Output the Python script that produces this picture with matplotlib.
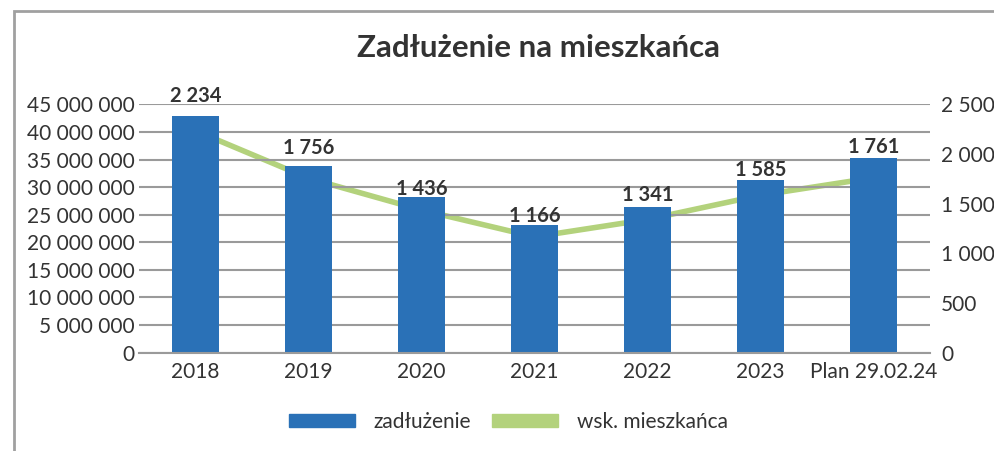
import matplotlib
matplotlib.use("Agg")
import matplotlib.pyplot as plt
from matplotlib.patches import Rectangle, Patch
from matplotlib.ticker import FuncFormatter

plt.rcParams['font.family'] = ['Lato', 'DejaVu Sans']

# data
years = ['2018', '2019', '2020', '2021', '2022', '2023', 'Plan 29.02.24']
debt = [42900000, 33900000, 28250000, 23150000, 26400000, 31300000, 35300000]
per_capita = [2234, 1756, 1436, 1166, 1341, 1585, 1761]
label_text = ['2 234', '1 756', '1 436', '1 166', '1 341', '1 585', '1 761']

# small nudges of the data labels above the bar tops (points)
label_lift = [10, 8, 1.5, 2, 4, 3, 3.5]

blue = '#2A71B7'
green = '#B3D27C'
grid_c = '#9A9A9A'
txt = '#333333'

fig = plt.figure(figsize=(9.94, 4.51), dpi=100)
ax = fig.add_axes([0.1398, 0.218, 0.7958, 0.5507])
ax2 = ax.twinx()

x = list(range(len(years)))
bars = ax.bar(x, debt, width=0.41, color=blue, zorder=2)
ax2.plot(x, per_capita, color=green, lw=4, zorder=1)

ax.set_xlim(-0.5, len(years) - 0.5)
ax.set_ylim(0, 45000000)
ax.set_yticks(range(0, 45000001, 5000000))
ax2.set_ylim(0, 2500)
ax2.set_yticks(range(0, 2501, 500))

fmt = FuncFormatter(lambda v, p: f'{int(v):,}'.replace(',', ' '))
ax.yaxis.set_major_formatter(fmt)
ax2.yaxis.set_major_formatter(fmt)

ax.grid(axis='y', color=grid_c, lw=1.5, zorder=0)
ax.set_axisbelow(True)
for a in (ax, ax2):
    for s in a.spines.values():
        s.set_visible(False)
    a.tick_params(length=0, labelsize=15, colors=txt)
ax.spines['bottom'].set_visible(True)
ax.spines['bottom'].set_color(grid_c)
ax.spines['bottom'].set_linewidth(1.5)
ax.set_xticks(x)
ax.set_xticklabels(years)
ax.tick_params(axis='x', pad=7)
ax.tick_params(axis='y', pad=3)
ax2.tick_params(axis='y', pad=8)

# bars sit over the line
ax.set_zorder(ax2.get_zorder() + 1)
ax.patch.set_visible(False)

for b, t, lift in zip(bars, label_text, label_lift):
    ax.annotate(t, (b.get_x() + b.get_width() / 2, b.get_height()),
                xytext=(0, lift), textcoords='offset points',
                ha='center', va='baseline', fontsize=14.5, fontweight='bold',
                color=txt)

fig.text(0.542, 0.893, 'Zadłużenie na mieszkańca', ha='center', va='center',
         fontsize=22.5, fontweight='bold', color=txt)

handles = [Patch(color=blue), Patch(color=green)]
leg = fig.legend(handles, ['zadłużenie', 'wsk. mieszkańca'], loc='center',
                 bbox_to_anchor=(0.5116, 0.064), ncol=2, frameon=False,
                 fontsize=15, handlelength=3.15, handleheight=0.6,
                 columnspacing=1.0, handletextpad=0.9)
for t in leg.get_texts():
    t.set_color(txt)

# outer frame (only top and left edges are in the picture)
fig.add_artist(Rectangle((14 / 994, -0.1), 1.2, 1.1 - 11 / 451,
                         transform=fig.transFigure, fill=False,
                         edgecolor='#A0A0A0', lw=2))

fig.savefig('out.png', dpi=100)
